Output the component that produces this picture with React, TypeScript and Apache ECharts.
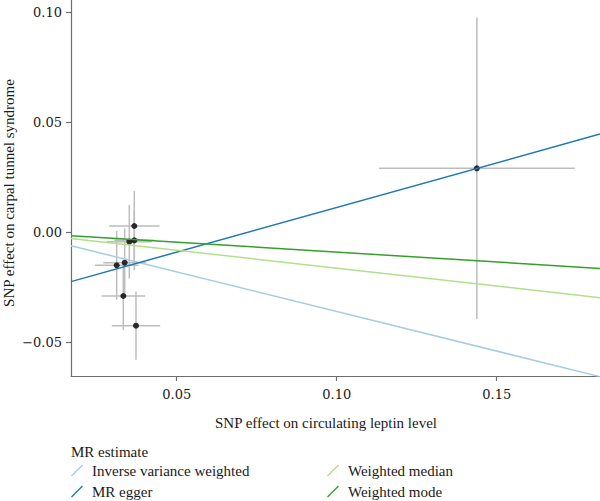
import React, { useEffect, useRef } from "react";
import * as echarts from "echarts";

// SNP-level estimates: effect on leptin (exposure) and on carpal tunnel syndrome (outcome)
const snpBetaExposure = [0.03675, 0.03675, 0.03519, 0.03375, 0.03125, 0.03331, 0.03728, 0.1438];
const snpBetaOutcome = [0.00286, -0.00364, -0.00427, -0.01382, -0.015, -0.02895, -0.04245, 0.0291];
// half-widths of the error bars
const snpErrExposure = [0.00786, 0.00625, 0.00703, 0.0067, 0.0068, 0.0068, 0.00756, 0.0306];
const snpErrOutcome = [0.0159, 0.0136, 0.0167, 0.0156, 0.0156, 0.0155, 0.0155, 0.0686];

// MR method fits (outcome = intercept + slope * exposure)
const methods = ["Inverse variance weighted", "MR egger", "Weighted median", "Weighted mode"];
const methodIntercepts = [0, -0.0293, 0, 0];
const methodSlopes = [-0.36, 0.4057, -0.163, -0.09];
const methodColors = ["#a6cee3", "#1f78b4", "#b2df8a", "#33a02c"];

const xTicks = [0.05, 0.1, 0.15];
const yTicks = [-0.05, 0, 0.05, 0.1];
const xRange = [0.01697, 0.18228];
const yRange = [-0.06532, 0.1056];

const FONT = "Liberation Serif";
const TICK_FONT = "DejaVu Serif";
const TEXT = "#1a1a1a";
const AXIS = "#6e6e6e";
const legendIcon = "path://M0,11 L11,0 L12,1 L1,12 Z";

const fmt = (v: number) => (v < 0 ? "\u2212" : "") + Math.abs(v).toFixed(2);

export default function App() {
  const ref = useRef<HTMLDivElement>(null);

  useEffect(() => {
    if (!ref.current) return;
    const chart = echarts.init(ref.current, null, { renderer: "svg" });

    const points = snpBetaExposure.map((x, i) => [x, snpBetaOutcome[i], snpErrExposure[i], snpErrOutcome[i]]);

    const fitSeries = methods.map((name, i) => ({
      name,
      type: "line",
      showSymbol: false,
      symbol: "none",
      silent: true,
      z: 5,
      color: methodColors[i],
      itemStyle: { color: methodColors[i] },
      lineStyle: { color: methodColors[i], width: 1.5 },
      data: xRange.map((x) => [x, methodIntercepts[i] + methodSlopes[i] * x]),
    }));

    const legendText = { fontFamily: FONT, fontSize: 15, color: TEXT, padding: [0, 0, 0, 4] };
    const makeLegend = (names: string[], left: number) => ({
      data: names.map((n) => ({ name: n, icon: legendIcon })),
      orient: "vertical",
      left,
      top: 463,
      padding: 0,
      itemWidth: 12,
      itemHeight: 12,
      itemGap: 6,
      selectedMode: false,
      textStyle: legendText,
    });

    chart.setOption({
      animation: false,
      backgroundColor: "#ffffff",
      grid: { left: 71, right: 0, top: 0, bottom: 125, containLabel: false },
      title: {
        text: "MR estimate",
        left: 71,
        top: 444,
        padding: 0,
        textStyle: { fontFamily: FONT, fontSize: 15, fontWeight: "normal", color: TEXT },
      },
      legend: [makeLegend(methods.slice(0, 2), 71), makeLegend(methods.slice(2), 327)],
      graphic: [
        {
          type: "text",
          x: 326,
          y: 423.3,
          style: {
            text: "SNP effect on circulating leptin level",
            fontFamily: FONT,
            fontSize: 15,
            fill: TEXT,
            align: "center",
            verticalAlign: "middle",
          },
        },
        {
          type: "text",
          x: 8.5,
          y: 193,
          rotation: Math.PI / 2,
          style: {
            text: "SNP effect on carpal tunnel syndrome",
            fontFamily: FONT,
            fontSize: 15,
            fill: TEXT,
            align: "center",
            verticalAlign: "middle",
          },
        },
      ],
      xAxis: {
        type: "value",
        min: xRange[0],
        max: xRange[1],
        splitLine: { show: false },
        axisLine: { show: true, onZero: false, lineStyle: { color: AXIS, width: 1.2 } },
        axisTick: { show: true, length: 5, customValues: xTicks, lineStyle: { color: AXIS, width: 1.2 } },
        axisLabel: {
          customValues: xTicks,
          formatter: fmt,
          margin: 12,
          fontFamily: TICK_FONT,
          fontSize: 13,
          color: TEXT,
        },
      },
      yAxis: {
        type: "value",
        min: yRange[0],
        max: yRange[1],
        splitLine: { show: false },
        axisLine: { show: true, onZero: false, lineStyle: { color: AXIS, width: 1.2 } },
        axisTick: { show: true, length: 5, customValues: yTicks, lineStyle: { color: AXIS, width: 1.2 } },
        axisLabel: {
          customValues: yTicks,
          formatter: fmt,
          margin: 9,
          fontFamily: TICK_FONT,
          fontSize: 13,
          color: TEXT,
        },
      },
      series: [
        {
          type: "custom",
          silent: true,
          z: 2,
          data: points,
          encode: { x: 0, y: 1 },
          renderItem: (_params: any, api: any) => {
            const x = api.value(0);
            const y = api.value(1);
            const ex = api.value(2);
            const ey = api.value(3);
            const l = api.coord([x - ex, y]);
            const r = api.coord([x + ex, y]);
            const t = api.coord([x, y + ey]);
            const b = api.coord([x, y - ey]);
            const style = { stroke: "#bdbdbd", lineWidth: 1.5 };
            return {
              type: "group",
              children: [
                { type: "line", shape: { x1: l[0], y1: l[1], x2: r[0], y2: r[1] }, style },
                { type: "line", shape: { x1: t[0], y1: t[1], x2: b[0], y2: b[1] }, style },
              ],
            };
          },
        },
        {
          type: "scatter",
          silent: true,
          z: 3,
          symbolSize: 6,
          itemStyle: { color: "#000000" },
          data: points.map((p) => [p[0], p[1]]),
        },
        ...fitSeries,
      ],
    });

    return () => chart.dispose();
  }, []);

  return (
    <div
      ref={ref}
      style={{ position: "fixed", left: 0, top: 0, width: 600, height: 501, background: "#fff" }}
    />
  );
}
